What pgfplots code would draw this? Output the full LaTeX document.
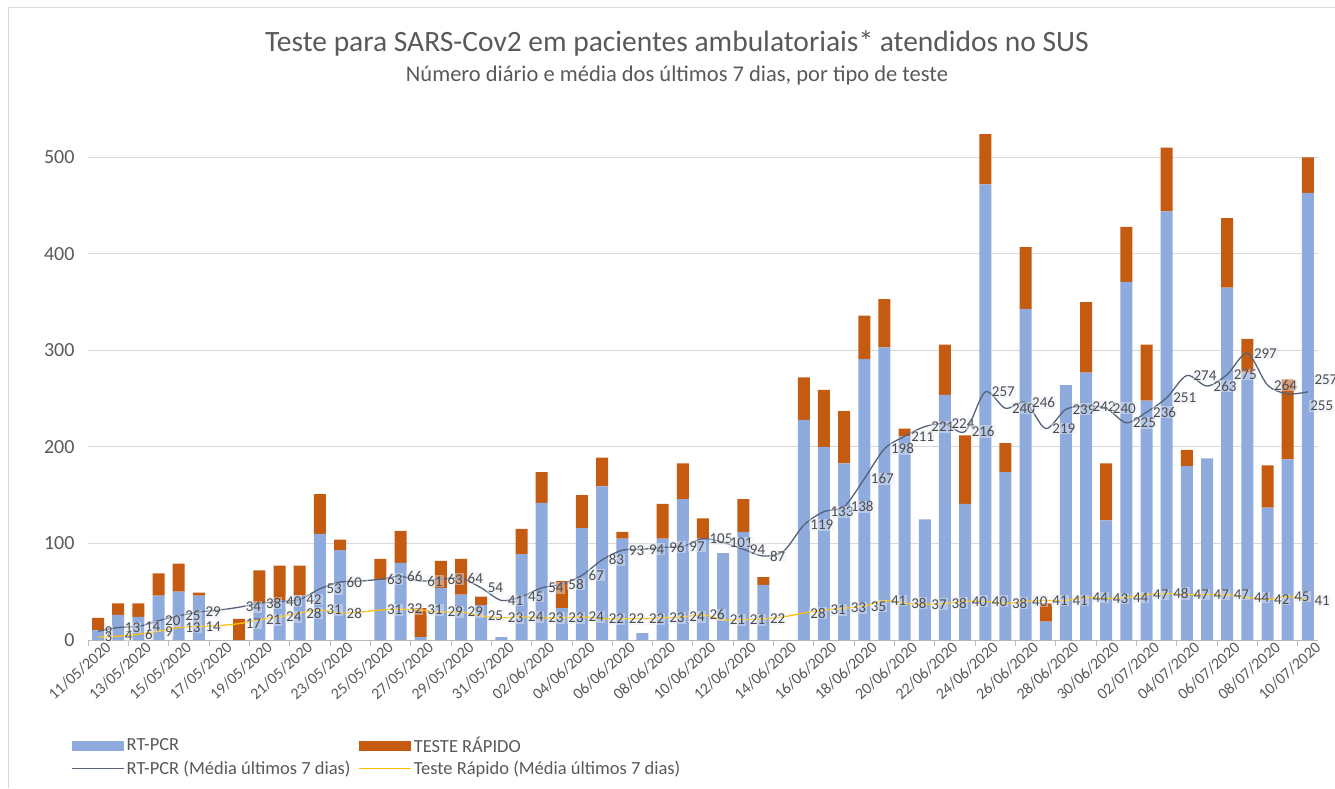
\documentclass[border=0pt]{standalone}
\usepackage{pgfplots}
\pgfplotsset{compat=1.18}
\usepackage{fontspec}
\setmainfont{Carlito}

\definecolor{rtblue}{HTML}{8FAADC}
\definecolor{troran}{HTML}{C55A11}
\definecolor{rtline}{HTML}{55627A}
\definecolor{trline}{HTML}{FFC000}
\definecolor{txtgray}{HTML}{595959}
\definecolor{gridgray}{HTML}{D9D9D9}
\definecolor{labbox}{HTML}{E6ECF6}

\pgfplotsset{
  barleg/.style={legend image code/.code={\fill[##1] (0pt,-5pt) rectangle (52pt,5pt);}},
  lineleg/.style={legend image code/.code={\draw[##1] (0pt,0pt) -- (52pt,0pt);}},
}

\begin{document}
\begin{tikzpicture}
\useasboundingbox (0,0) rectangle (1335pt,788pt);
\draw[gridgray, line width=1pt] (8pt,0pt) -- (8pt,780pt) -- (1335pt,780pt);

\node[font=\fontsize{29.5}{31}\selectfont, text=txtgray] at (677pt,745pt)
  {Teste para SARS-Cov2 em pacientes ambulatoriais* atendidos no SUS};
\node[font=\fontsize{22.5}{24}\selectfont, text=txtgray] at (677pt,712pt)
  {Número diário e média dos últimos 7 dias, por tipo de teste};

% daily bars
\begin{axis}[
  at={(88pt,148pt)}, anchor=south west,
  scale only axis, width=1230pt, height=531pt,
  xmin=-0.5, xmax=60.5, ymin=0, ymax=550,
  ybar stacked, bar width=12pt,
  axis x line*=bottom, axis y line*=left,
  axis line style={-}, y axis line style={draw=none},
  x axis line style={draw=gray!55, line width=0.8pt},
  xtick={0,2,...,60},
  xticklabels={11/05/2020,13/05/2020,15/05/2020,17/05/2020,19/05/2020,21/05/2020,
    23/05/2020,25/05/2020,27/05/2020,29/05/2020,31/05/2020,02/06/2020,04/06/2020,
    06/06/2020,08/06/2020,10/06/2020,12/06/2020,14/06/2020,16/06/2020,18/06/2020,
    20/06/2020,22/06/2020,24/06/2020,26/06/2020,28/06/2020,30/06/2020,02/07/2020,
    04/07/2020,06/07/2020,08/07/2020,10/07/2020},
  minor xtick={-0.5,1.5,...,59.5},
  major tick length=0pt, minor tick length=6pt, tick align=outside,
  minor tick style={draw=gray!55, line width=0.8pt},
  ytick={0,100,...,500},
  ymajorgrids, grid style={gridgray, line width=0.9pt},
  /pgf/number format/assume math mode=true,
  xticklabel style={rotate=42, anchor=north east, font=\fontsize{16}{16}\selectfont,
    text=txtgray, inner sep=0.5pt, yshift=-4pt, xshift=5pt},
  yticklabel style={font=\fontsize{20}{20}\selectfont, text=txtgray, xshift=-10pt},
]
\addplot[fill=rtblue, draw=none] coordinates {
 (0,10) (1,26) (2,24) (3,46) (4,50) (5,46) (6,0) (7,0) (8,38) (9,41)
 (10,46) (11,110) (12,93) (13,0) (14,62) (15,80) (16,3) (17,54) (18,47) (19,36)
 (20,3) (21,89) (22,142) (23,33) (24,116) (25,159) (26,105) (27,7) (28,105) (29,146)
 (30,105) (31,90) (32,112) (33,57) (34,0) (35,228) (36,200) (37,183) (38,291) (39,303)
 (40,211) (41,125) (42,254) (43,141) (44,472) (45,174) (46,343) (47,19) (48,264) (49,277)
 (50,124) (51,371) (52,248) (53,444) (54,180) (55,188) (56,365) (57,277) (58,137) (59,187)
 (60,463)};
\addplot[fill=troran, draw=none] coordinates {
 (0,13) (1,12) (2,14) (3,23) (4,29) (5,3) (6,0) (7,22) (8,34) (9,36)
 (10,31) (11,41) (12,11) (13,0) (14,22) (15,33) (16,30) (17,28) (18,37) (19,9)
 (20,0) (21,26) (22,32) (23,28) (24,34) (25,30) (26,7) (27,0) (28,36) (29,37)
 (30,21) (31,0) (32,34) (33,8) (34,0) (35,44) (36,59) (37,54) (38,45) (39,50)
 (40,8) (41,0) (42,52) (43,71) (44,52) (45,30) (46,64) (47,19) (48,0) (49,73)
 (50,59) (51,57) (52,58) (53,66) (54,17) (55,0) (56,72) (57,35) (58,44) (59,83)
 (60,37)};
\end{axis}

% 7-day means
\begin{axis}[
  at={(88pt,148pt)}, anchor=south west,
  scale only axis, width=1230pt, height=531pt,
  xmin=-0.5, xmax=60.5, ymin=0, ymax=550,
  hide axis, clip=false,
  point meta=explicit symbolic,
  nodes near coords={\pgfplotspointmeta},
  every node near coord/.append style={font=\fontsize{15}{15}\selectfont,
    text=txtgray!85!black, anchor=west, inner sep=1pt, xshift=5pt,
    fill=labbox, fill opacity=0.45, text opacity=1},
  legend columns=2,
  legend cell align=left,
  legend style={at={(-0.016,-0.175)}, anchor=north west, draw=none, fill=none,
    font=\fontsize{18.5}{20}\selectfont, text=txtgray, row sep=3pt,
    /tikz/every even column/.append style={column sep=6pt}},
]
\addlegendimage{fill=rtblue, draw=none, barleg}
\addlegendentry{RT-PCR}
\addlegendimage{fill=troran, draw=none, barleg}
\addlegendentry{TESTE RÁPIDO}
\addlegendimage{draw=rtline, line width=1.2pt, lineleg}
\addlegendentry{RT-PCR (Média últimos 7 dias)}
\addlegendimage{draw=trline, line width=1.2pt, lineleg}
\addlegendentry{Teste Rápido (Média últimos 7 dias)}

\addplot[forget plot, smooth, draw=rtline, line width=1.3pt, mark=none,
  coordinate style/.condition={x==59}{xshift=16pt, yshift=-12pt},
  coordinate style/.condition={x==60}{yshift=12pt}] coordinates {
 (0,9)[9] (1,13)[13] (2,14)[14] (3,20)[20] (4,25)[25] (5,29)[29] (6,31)[{}]
 (7,34)[34] (8,38)[38] (9,40)[40] (10,42)[42] (11,53)[53] (12,60)[60] (13,61)[{}]
 (14,63)[63] (15,66)[66] (16,61)[61] (17,63)[63] (18,64)[64] (19,54)[54] (20,41)[41]
 (21,45)[45] (22,54)[54] (23,58)[58] (24,67)[67] (25,83)[83] (26,93)[93] (27,94)[94]
 (28,96)[96] (29,97)[97] (30,105)[105] (31,101)[101] (32,94)[94] (33,87)[87] (34,92)[{}]
 (35,119)[119] (36,133)[133] (37,138)[138] (38,167)[167] (39,198)[198] (40,211)[211]
 (41,221)[221] (42,224)[224] (43,216)[216] (44,257)[257] (45,240)[240] (46,246)[246]
 (47,219)[219] (48,239)[239] (49,242)[242] (50,240)[240] (51,225)[225] (52,236)[236]
 (53,251)[251] (54,274)[274] (55,263)[263] (56,275)[275] (57,297)[297] (58,264)[264]
 (59,255)[255] (60,257)[257]};
\addplot[forget plot, smooth, draw=trline, line width=1.3pt, mark=none] coordinates {
 (0,3)[3] (1,4)[4] (2,6)[6] (3,9)[9] (4,13)[13] (5,14)[14] (6,15)[{}]
 (7,17)[17] (8,21)[21] (9,24)[24] (10,28)[28] (11,31)[31] (12,28)[28] (13,29)[{}]
 (14,31)[31] (15,32)[32] (16,31)[31] (17,29)[29] (18,29)[29] (19,25)[25] (20,23)[23]
 (21,24)[24] (22,23)[23] (23,23)[23] (24,24)[24] (25,22)[22] (26,22)[22] (27,22)[22]
 (28,23)[23] (29,24)[24] (30,26)[26] (31,21)[21] (32,21)[21] (33,22)[22] (34,24)[{}]
 (35,28)[28] (36,31)[31] (37,33)[33] (38,35)[35] (39,41)[41] (40,38)[38]
 (41,37)[37] (42,38)[38] (43,40)[40] (44,40)[40] (45,38)[38] (46,40)[40]
 (47,41)[41] (48,41)[41] (49,44)[44] (50,43)[43] (51,44)[44] (52,47)[47]
 (53,48)[48] (54,47)[47] (55,47)[47] (56,47)[47] (57,44)[44] (58,42)[42]
 (59,45)[45] (60,41)[41]};
\end{axis}
\end{tikzpicture}
\end{document}
